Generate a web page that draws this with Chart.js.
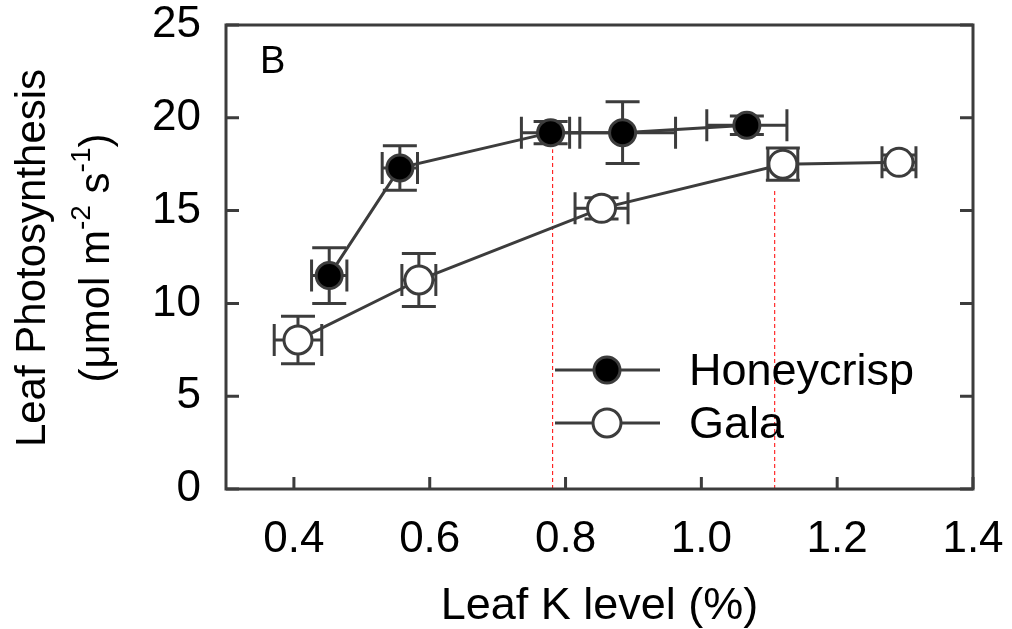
<!DOCTYPE html>
<html>
<head>
<meta charset="utf-8">
<script src="https://cdn.jsdelivr.net/npm/chart.js@4"></script>
<style>
  html, body { margin: 0; padding: 0; background: #fff; }
  #wrap { width: 1012px; height: 629px; }
</style>
</head>
<body>
<div id="wrap"><canvas id="photoChart" width="1012" height="629"></canvas></div>
<script>
// leaf K (%) vs net photosynthesis, means with SE in both directions
const seriesNames = ['Honeycrisp', 'Gala'];

const honeycrispK    = [0.452, 0.556, 0.778, 0.884, 1.067];
const honeycrispA    = [11.5, 17.3, 19.2, 19.2, 19.6];
const honeycrispKErr = [0.026, 0.026, 0.043, 0.078, 0.059];
const honeycrispAErr = [1.5, 1.2, 0.6, 1.66, 0.5];

const galaK    = [0.406, 0.584, 0.853, 1.12, 1.291];
const galaA    = [8.03, 11.26, 15.12, 17.5, 17.6];
const galaKErr = [0.035, 0.025, 0.039, 0.022, 0.025];
const galaAErr = [1.28, 1.43, 0.57, 0.87, 0.4];

// dashed red markers for the K thresholds
const thresholdK   = [0.781, 1.108];
const thresholdTop = [18.3, 16.2];

const xTickValues = [0.4, 0.6, 0.8, 1.0, 1.2, 1.4];
const yTickValues = [0, 5, 10, 15, 20, 25];

const INK = '#3c3c3c';
const FONT = '"Liberation Sans", Arial, sans-serif';

function toPoints(xs, ys) {
    return xs.map((x, i) => ({ x: x, y: ys[i] }));
}

const errors = [
    { kErr: honeycrispKErr, aErr: honeycrispAErr },
    { kErr: galaKErr, aErr: galaAErr }
];

const extras = {
    id: 'extras',
    beforeDatasetsDraw(chart) {
        const { ctx, scales: { x, y } } = chart;
        ctx.save();
        // threshold lines
        ctx.strokeStyle = '#ff0000';
        ctx.lineWidth = 1;
        ctx.setLineDash([4, 3]);
        thresholdK.forEach((k, i) => {
            const px = x.getPixelForValue(k);
            ctx.beginPath();
            ctx.moveTo(px, y.getPixelForValue(0));
            ctx.lineTo(px, y.getPixelForValue(thresholdTop[i]));
            ctx.stroke();
        });
        ctx.setLineDash([]);

        // error bars
        ctx.strokeStyle = INK;
        ctx.lineWidth = 3;
        chart.data.datasets.forEach((ds, di) => {
            const e = errors[di];
            ds.data.forEach((p, j) => {
                const px = x.getPixelForValue(p.x);
                const py = y.getPixelForValue(p.y);
                const y1 = y.getPixelForValue(p.y + e.aErr[j]);
                const y2 = y.getPixelForValue(p.y - e.aErr[j]);
                const x1 = x.getPixelForValue(p.x - e.kErr[j]);
                const x2 = x.getPixelForValue(p.x + e.kErr[j]);
                ctx.beginPath();
                ctx.moveTo(px, y1); ctx.lineTo(px, y2);
                ctx.moveTo(px - 17, y1); ctx.lineTo(px + 17, y1);
                ctx.moveTo(px - 17, y2); ctx.lineTo(px + 17, y2);
                ctx.moveTo(x1, py); ctx.lineTo(x2, py);
                ctx.moveTo(x1, py - 16); ctx.lineTo(x1, py + 16);
                ctx.moveTo(x2, py - 16); ctx.lineTo(x2, py + 16);
                ctx.stroke();
            });
        });
        ctx.restore();
    },
    afterDraw(chart) {
        const { ctx, chartArea: a, scales: { x, y } } = chart;
        ctx.save();
        // frame + inward ticks
        ctx.strokeStyle = INK;
        ctx.lineWidth = 3;
        ctx.strokeRect(a.left, a.top, a.right - a.left, a.bottom - a.top);
        ctx.beginPath();
        yTickValues.forEach(v => {
            const py = y.getPixelForValue(v);
            ctx.moveTo(a.left, py); ctx.lineTo(a.left + 13, py);
            ctx.moveTo(a.right, py); ctx.lineTo(a.right - 13, py);
        });
        xTickValues.forEach(v => {
            const px = x.getPixelForValue(v);
            ctx.moveTo(px, a.bottom); ctx.lineTo(px, a.bottom - 12);
        });
        ctx.stroke();

        // legend
        const rows = [370, 423];
        chart.data.datasets.forEach((ds, i) => {
            const ly = rows[i];
            ctx.strokeStyle = INK;
            ctx.lineWidth = 3;
            ctx.beginPath();
            ctx.moveTo(555, ly); ctx.lineTo(660, ly);
            ctx.stroke();
            ctx.beginPath();
            ctx.arc(607, ly, ds.pointRadius, 0, Math.PI * 2);
            ctx.fillStyle = ds.pointBackgroundColor;
            ctx.fill();
            ctx.lineWidth = ds.pointBorderWidth;
            ctx.stroke();
            ctx.fillStyle = '#000';
            ctx.font = '45px ' + FONT;
            ctx.textAlign = 'left';
            ctx.textBaseline = 'alphabetic';
            ctx.fillText(ds.label, 689, ly + 15);
        });

        // panel letter
        ctx.font = '38px ' + FONT;
        ctx.fillText('B', 260, 73);

        // y axis title, two lines with superscripts
        ctx.translate(33, 258);
        ctx.rotate(-Math.PI / 2);
        ctx.textBaseline = 'middle';
        ctx.textAlign = 'center';
        ctx.font = '42px ' + FONT;
        ctx.fillText('Leaf Photosynthesis', 0, 0);

        const parts = [
            ['(\u03bcmol m', 42, 0],
            ['-2', 28, -15],
            [' s', 42, 0],
            ['-1', 28, -15],
            [')', 42, 0]
        ];
        let total = 0;
        parts.forEach(p => { ctx.font = p[1] + 'px ' + FONT; total += ctx.measureText(p[0]).width; });
        let cx = -total / 2;
        ctx.textAlign = 'left';
        parts.forEach(p => {
            ctx.font = p[1] + 'px ' + FONT;
            ctx.fillText(p[0], cx, 64 + p[2]);
            cx += ctx.measureText(p[0]).width;
        });
        ctx.restore();
    }
};

new Chart(document.getElementById('photoChart').getContext('2d'), {
    type: 'scatter',
    data: {
        datasets: [
            {
                label: seriesNames[0],
                data: toPoints(honeycrispK, honeycrispA),
                showLine: true,
                borderColor: INK,
                borderWidth: 3,
                pointRadius: 13,
                pointBackgroundColor: '#000000',
                pointBorderColor: INK,
                pointBorderWidth: 3
            },
            {
                label: seriesNames[1],
                data: toPoints(galaK, galaA),
                showLine: true,
                borderColor: INK,
                borderWidth: 3,
                pointRadius: 14,
                pointBackgroundColor: '#ffffff',
                pointBorderColor: INK,
                pointBorderWidth: 3
            }
        ]
    },
    options: {
        responsive: false,
        animation: false,
        layout: { padding: { top: 25, right: 39, left: 0, bottom: 0 } },
        plugins: { legend: { display: false }, tooltip: { enabled: false } },
        scales: {
            x: {
                type: 'linear',
                min: 0.3,
                max: 1.4,
                grid: { display: false, drawTicks: false },
                border: { display: false },
                afterBuildTicks: s => { s.ticks = xTickValues.map(v => ({ value: v })); },
                afterFit: s => { s.height = 140; s.paddingLeft = 0; s.paddingRight = 0; },
                ticks: {
                    color: '#000',
                    padding: 29,
                    autoSkip: false,
                    maxRotation: 0,
                    font: { family: FONT, size: 44, lineHeight: 1 },
                    callback: v => Number(v).toFixed(1)
                },
                title: {
                    display: true,
                    text: 'Leaf K level (%)',
                    color: '#000',
                    padding: { top: 0, bottom: 0 },
                    font: { family: FONT, size: 45, lineHeight: 1 }
                }
            },
            y: {
                type: 'linear',
                min: 0,
                max: 25,
                grid: { display: false, drawTicks: false },
                border: { display: false },
                afterBuildTicks: s => { s.ticks = yTickValues.map(v => ({ value: v })); },
                afterFit: s => { s.width = 226; s.paddingTop = 0; s.paddingBottom = 0; },
                ticks: {
                    color: '#000',
                    padding: 25,
                    font: { family: FONT, size: 44, lineHeight: 1 }
                }
            }
        }
    },
    plugins: [extras]
});
</script>
</body>
</html>
